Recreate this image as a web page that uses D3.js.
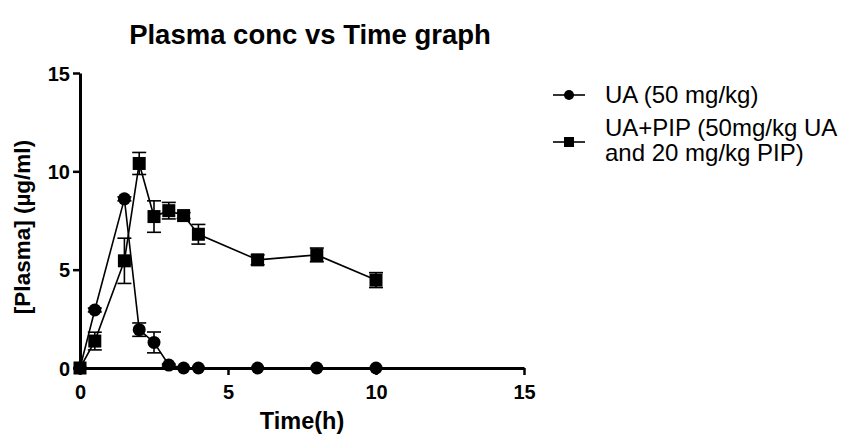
<!DOCTYPE html>
<html>
<head>
<meta charset="utf-8">
<script src="https://cdn.jsdelivr.net/npm/d3@7"></script>
<style>
  body { margin: 0; background: #fff; }
  text { font-family: "Liberation Sans", Arial, sans-serif; fill: #000; }
</style>
</head>
<body>
<div id="chart"></div>
<script>
// data
const times = [0, 0.5, 1.5, 2, 2.5, 3, 3.5, 4, 6, 8, 10];
const uaMean = [0, 2.95, 8.6, 1.95, 1.3, 0.15, 0, 0, 0, 0, 0];
const uaSem = [0, 0.1, 0.1, 0.34, 0.53, 0.05, 0, 0, 0, 0, 0];
const pipMean = [0, 1.37, 5.45, 10.4, 7.7, 8.0, 7.75, 6.8, 5.5, 5.75, 4.47];
const pipSem = [0, 0.45, 1.15, 0.56, 0.8, 0.42, 0.15, 0.5, 0.25, 0.35, 0.38];
const xTicks = [0, 5, 10, 15];
const yTicks = [0, 5, 10, 15];
const seriesNames = ["UA (50 mg/kg)", ["UA+PIP (50mg/kg UA", "and 20 mg/kg PIP)"]];

const width = 841, height = 436;

const svg = d3.select("#chart")
  .append("svg")
  .attr("width", width)
  .attr("height", height);

const x = d3.scaleLinear().domain([0, 15]).range([80, 524]);
const y = d3.scaleLinear().domain([0, 15]).range([368, 73]);

// title
svg.append("text")
  .attr("x", 310)
  .attr("y", 44)
  .attr("text-anchor", "middle")
  .attr("font-size", "27.5px")
  .attr("font-weight", "bold")
  .text("Plasma conc vs Time graph");

// axes
const xAxis = svg.append("g")
  .attr("transform", `translate(0, ${y(0)})`)
  .call(d3.axisBottom(x).tickValues(xTicks).tickSize(7).tickPadding(5).tickSizeOuter(0));
const yAxis = svg.append("g")
  .attr("transform", `translate(${x(0)}, 0)`)
  .call(d3.axisLeft(y).tickValues(yTicks).tickSize(7).tickPadding(3).tickSizeOuter(0));

[xAxis, yAxis].forEach((a) => {
  a.select(".domain").attr("stroke", "#000").attr("stroke-width", 3);
  a.selectAll(".tick line").attr("stroke", "#000").attr("stroke-width", 2.5);
  a.selectAll(".tick text")
    .attr("font-size", "20px")
    .attr("font-weight", "bold")
    .attr("font-family", "Liberation Sans, Arial, sans-serif");
});
xAxis.selectAll(".tick text").attr("dy", "0.95em");
yAxis.selectAll(".tick text").attr("dy", "0.36em");

// axis labels
svg.append("text")
  .attr("x", 302)
  .attr("y", 429)
  .attr("text-anchor", "middle")
  .attr("font-size", "23.5px")
  .attr("font-weight", "bold")
  .text("Time(h)");

svg.append("text")
  .attr("transform", "translate(30, 227) rotate(-90)")
  .attr("text-anchor", "middle")
  .attr("font-size", "22.5px")
  .attr("font-weight", "bold")
  .text("[Plasma] (µg/ml)");

const line = d3.line()
  .x((d) => x(d[0]))
  .y((d) => y(d[1]));

function drawSeries(mean, sem, shape) {
  const pts = times.map((t, i) => [t, mean[i], sem[i]]);
  const g = svg.append("g");

  g.append("path")
    .datum(pts)
    .attr("d", line)
    .attr("fill", "none")
    .attr("stroke", "#000")
    .attr("stroke-width", 1.6);

  // error bars
  pts.filter((d) => d[2] > 0).forEach((d) => {
    const cx = x(d[0]);
    const top = y(d[1] + d[2]), bot = y(d[1] - d[2]);
    g.append("line")
      .attr("x1", cx).attr("x2", cx)
      .attr("y1", top).attr("y2", bot)
      .attr("stroke", "#000").attr("stroke-width", 1.6);
    [top, bot].forEach((yy) => {
      g.append("line")
        .attr("x1", cx - 7).attr("x2", cx + 7)
        .attr("y1", yy).attr("y2", yy)
        .attr("stroke", "#000").attr("stroke-width", 1.6);
    });
  });

  // markers
  if (shape === "circle") {
    g.selectAll("circle")
      .data(pts)
      .join("circle")
      .attr("cx", (d) => x(d[0]))
      .attr("cy", (d) => y(d[1]))
      .attr("r", 6.5)
      .attr("fill", "#000");
  } else {
    g.selectAll("rect")
      .data(pts)
      .join("rect")
      .attr("x", (d) => x(d[0]) - 6.5)
      .attr("y", (d) => y(d[1]) - 6.5)
      .attr("width", 13)
      .attr("height", 13)
      .attr("fill", "#000");
  }
}

drawSeries(uaMean, uaSem, "circle");
drawSeries(pipMean, pipSem, "square");

// legend
const legend = svg.append("g");

legend.append("line")
  .attr("x1", 553).attr("x2", 585).attr("y1", 95).attr("y2", 95)
  .attr("stroke", "#000").attr("stroke-width", 1.6);
legend.append("circle")
  .attr("cx", 569).attr("cy", 95).attr("r", 5).attr("fill", "#000");
legend.append("text")
  .attr("x", 605).attr("y", 103)
  .attr("font-size", "24px")
  .text(seriesNames[0]);

legend.append("line")
  .attr("x1", 553).attr("x2", 585).attr("y1", 142).attr("y2", 142)
  .attr("stroke", "#000").attr("stroke-width", 1.6);
legend.append("rect")
  .attr("x", 564).attr("y", 137).attr("width", 10).attr("height", 10).attr("fill", "#000");
const t2 = legend.append("text")
  .attr("x", 605).attr("y", 136)
  .attr("font-size", "24px");
seriesNames[1].forEach((s, i) => {
  t2.append("tspan")
    .attr("x", 605)
    .attr("dy", i === 0 ? 0 : 25)
    .text(s);
});
</script>
</body>
</html>
